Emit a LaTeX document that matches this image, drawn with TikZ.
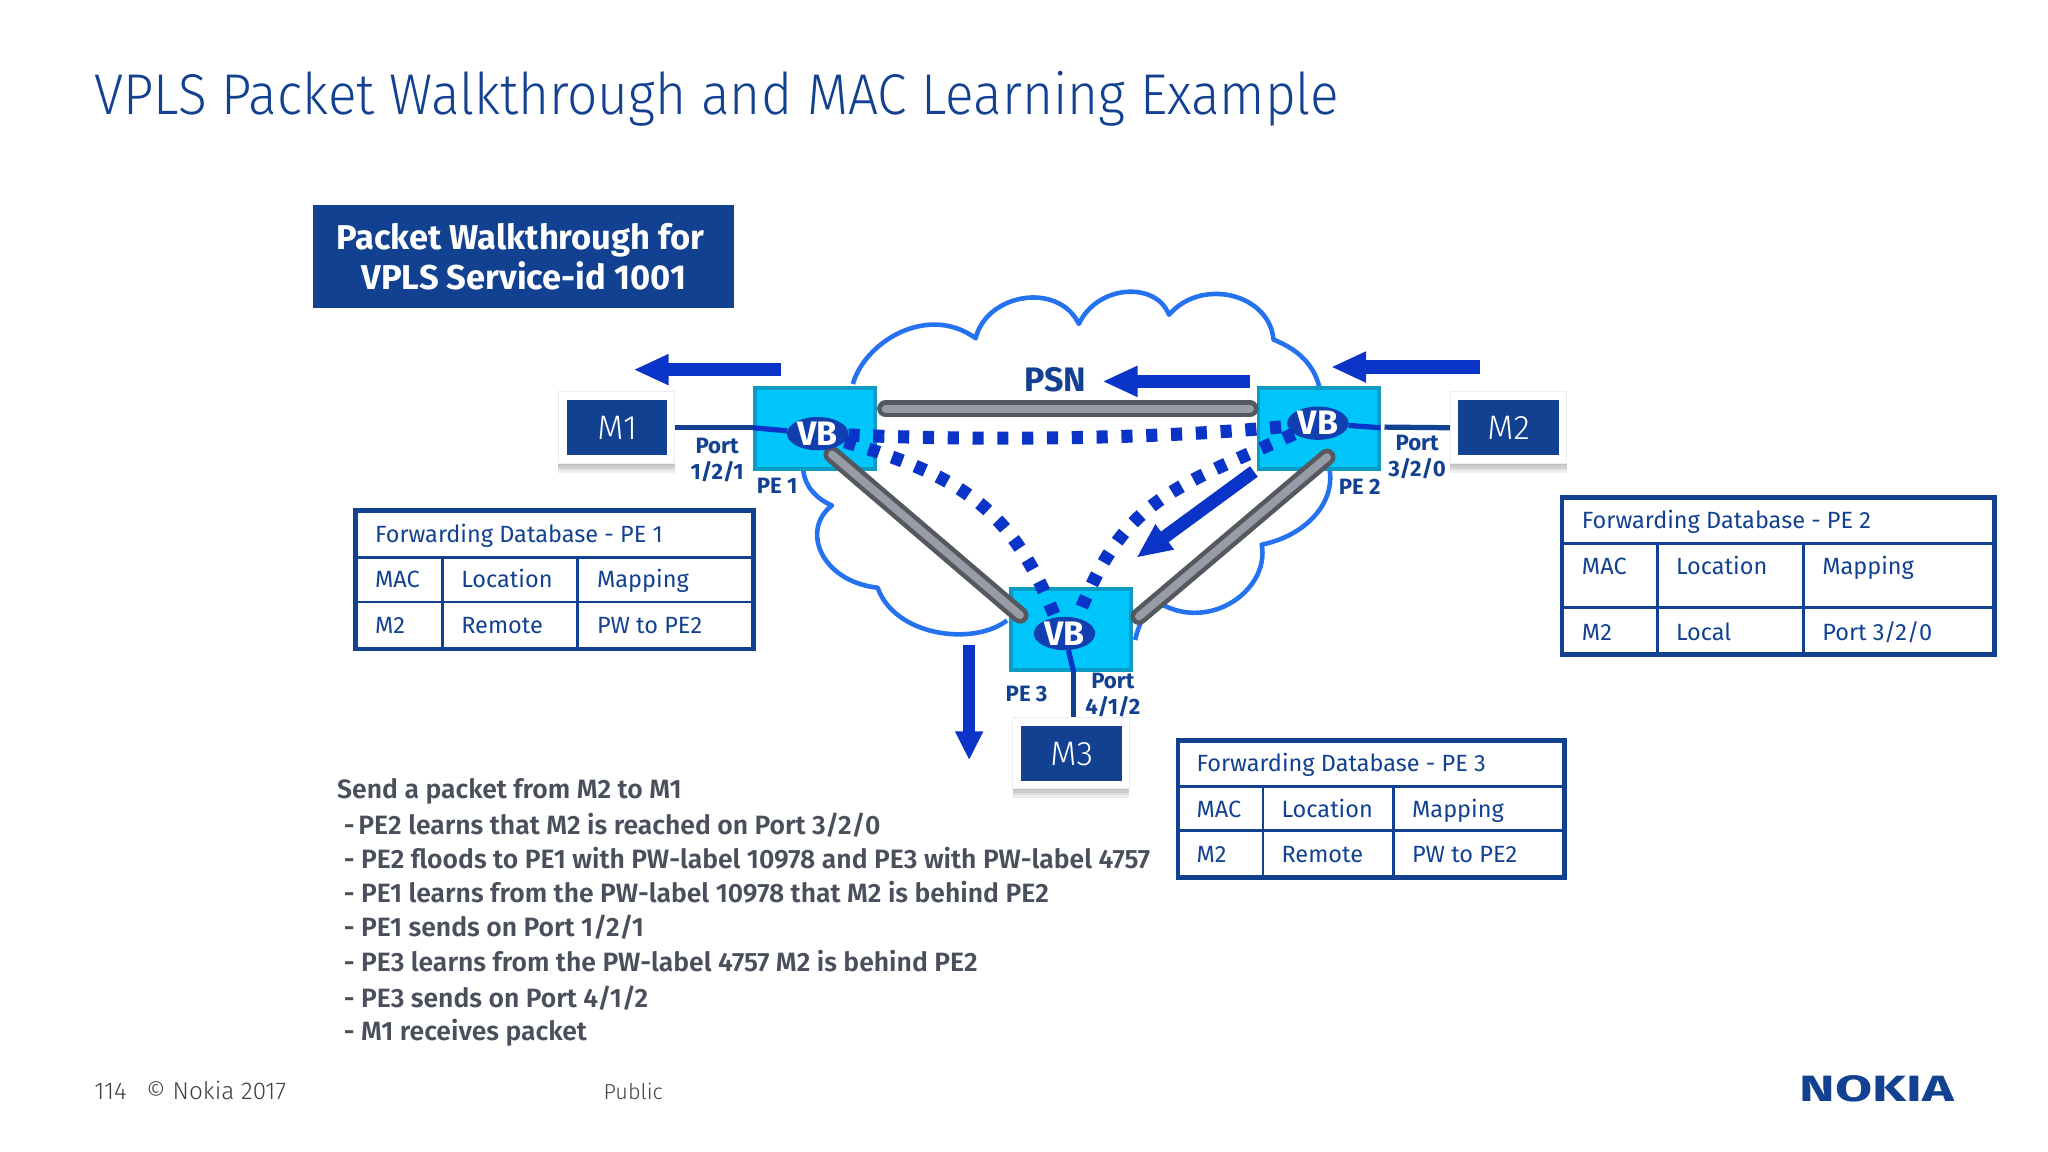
\documentclass[tikz,border=0pt]{standalone}
\usepackage{fontspec}
\setmainfont{Fira Sans}
\newfontfamily\lightfont{Fira Sans Light}
\newfontfamily\titlefont[FakeStretch=0.926]{Fira Sans Light}
\newfontfamily\semifont{Fira Sans SemiBold}
\usetikzlibrary{arrows.meta,shadows,shapes.geometric}
\definecolor{nokiablue}{HTML}{124191}
\definecolor{cloudblue}{HTML}{2472F0}
\definecolor{flowblue}{HTML}{0A33C8}
\definecolor{pefill}{HTML}{00C5FB}
\definecolor{peedge}{HTML}{0A9CC4}
\definecolor{vbfill}{HTML}{123FB0}
\definecolor{tubedark}{HTML}{55585F}
\definecolor{tubelight}{HTML}{989CA6}
\definecolor{stepgrey}{HTML}{4A4F5C}
\tikzset{
	pe/.style={draw=peedge,fill=pefill,line width=3pt,inner sep=0pt,minimum width=92pt,minimum height=62pt},
	vb/.style={ellipse,fill=vbfill,inner sep=0pt,minimum width=47pt,minimum height=23pt,text=white,font=\fontsize{26}{26}\selectfont\bfseries},
	cardshade/.style={general shadow={fill=black,opacity=.07,shadow yshift=#1}},
	card/.style={draw=black!7,fill=white,line width=.8pt,inner sep=0pt,minimum width=89pt,minimum height=55pt,cardshade=-1pt,cardshade=-3pt,cardshade=-5pt,cardshade=-7pt},
	host/.style={fill=nokiablue,inner sep=0pt,minimum width=77pt,minimum height=42pt,text=white,font=\fontsize{26}{26}\selectfont\lightfont},
	tubeouter/.style={line width=13pt,color=tubedark,line cap=round},
	tubeinner/.style={line width=6pt,color=tubelight,line cap=round},
	pw/.style={line width=10pt,color=flowblue,dash pattern=on 8.5pt off 10.5pt},
	flow/.style={line width=10pt,color=flowblue,-{Triangle[length=27pt,width=22pt]}},
	link/.style={line width=4pt,color=nokiablue},
	vblink/.style={line width=4pt,color=flowblue},
	lbl/.style={inner sep=0pt,align=center,text=nokiablue,font=\fontsize{17}{20}\selectfont\bfseries},
	fdb/.style={draw=nokiablue,line width=3.5pt},
	fdbrule/.style={draw=nokiablue,line width=2pt},
	cell/.style={anchor=base west,inner sep=0pt,text=nokiablue,font=\fontsize{18}{18}\selectfont},
	walkline/.style={anchor=base west,inner sep=0pt,text=stepgrey,font=\fontsize{20.3}{20}\selectfont\semifont}
}
\begin{document}
\begin{tikzpicture}[x=1pt,y=-1pt]
	\useasboundingbox (0,0) rectangle (1568,882);
	\node[anchor=base west,inner sep=0pt,text=nokiablue,font=\fontsize{44}{44}\selectfont\titlefont] (title) at (72,88) {VPLS Packet Walkthrough and MAC Learning Example};
	\node[fill=nokiablue,inner sep=0pt,minimum width=322pt,minimum height=79pt,align=center,text=white,font=\fontsize{26.4}{31}\selectfont\bfseries] (walk) at (401,196.5) {\hspace{-5pt}Packet Walkthrough for\\VPLS Service-id 1001};
	% cloud
	\draw[cloudblue,line width=3.5pt,line join=round] (653,294) .. controls (662,262) and (710,232) .. (747,259)
		.. controls (755,225) and (810,215) .. (826,248)
		.. controls (840,218) and (885,215) .. (895,241)
		.. controls (920,212) and (972,225) .. (975,260)
		.. controls (995,268) and (1006,280) .. (1010,296);
	\draw[cloudblue,line width=3.5pt,line join=round] (1018,360) .. controls (1022,385) and (1000,410) .. (966,417)
		.. controls (972,450) and (930,482) .. (892,464)
		.. controls (882,460) and (874,470) .. (869,490);
	\draw[cloudblue,line width=3.5pt,line join=round] (771,475) .. controls (745,495) and (685,487) .. (672,450)
		.. controls (628,445) and (613,405) .. (637,387)
		.. controls (625,382) and (616,372) .. (615,360);
	% routers
	\node[pe] (pe1) at (624,328) {};
	\node[pe] (pe2) at (1009.5,328) {};
	\node[pe] (pe3) at (820,482) {};
	\coordinate (t12a) at (678,313);
	\coordinate (t12b) at (957,313);
	\coordinate (t13a) at (637,348);
	\coordinate (t13b) at (781,471);
	\coordinate (t23a) at (1016,350);
	\coordinate (t23b) at (872,472);
	\draw[tubeouter] (t12a) -- (t12b);
	\draw[tubeouter] (t13a) -- (t13b);
	\draw[tubeouter] (t23a) -- (t23b);
	\draw[tubeinner] (t12a) -- (t12b);
	\draw[tubeinner] (t13a) -- (t13b);
	\draw[tubeinner] (t23a) -- (t23b);
	\node[vb] (vb1) at (626,332) {VB};
	\node[vb] (vb2) at (1009,324) {VB};
	\node[vb] (vb3) at (815,485) {VB};
	\draw[pw] (vb1) .. controls (740,337) and (880,337) .. (vb2);
	\draw[pw] (vb1) .. controls (737,365) and (775,390) .. (vb3.120);
	\draw[pw] (vb2) .. controls (895,375) and (860,383) .. (vb3.50);
	% hosts
	\node[card] (m1card) at (472,327.5) {};
	\node[card] (m2card) at (1155,327.5) {};
	\node[card] (m3card) at (820,576.5) {};
	\node[host] (m1) at (472.5,327.5) {M1};
	\node[host] (m2) at (1155,327.5) {M2};
	\node[host] (m3) at (820.5,577) {M3};
	\draw[link] (m1card.east) -- (pe1.west |- m1card.east);
	\draw[vblink] (pe1.west |- m1card.east) -- (vb1);
	\draw[link] (m2card.west) -- (1060,327);
	\draw[vblink] (pe2.east |- m2card.west) -- (vb2);
	\draw[link] ([xshift=2pt]m3card.north) -- ([xshift=2pt]pe3.south -| m3card.north);
	\draw[vblink] ([xshift=2pt]pe3.south -| m3card.north) -- (vb3);
	% packet flow
	\coordinate (f1a) at (598,283);
	\coordinate (f1b) at (485,283);
	\coordinate (f2a) at (957,292);
	\coordinate (f2b) at (844,292);
	\coordinate (f3a) at (1133,281);
	\coordinate (f3b) at (1019,281);
	\coordinate (f4a) at (742,494);
	\coordinate (f4b) at (742,582);
	\coordinate (f5a) at (960,361);
	\coordinate (f5b) at (870,427);
	\draw[flow] (f1a) -- (f1b);
	\draw[flow] (f2a) -- (f2b);
	\draw[flow] (f3a) -- (f3b);
	\draw[flow,line width=9pt,-{Triangle[length=22pt,width=20pt]}] (f4a) -- (f4b);
	\draw[flow] (f5a) -- (f5b);
	% labels
	\node[lbl,font=\fontsize{26}{26}\selectfont\bfseries] (psn) at (808,291) {PSN};
	\node[lbl] (port1) at (549,352) {Port\\1/2/1};
	\node[lbl] (port2) at (1085,350) {Port\\3/2/0};
	\node[lbl] (port3) at (852,532) {Port\\4/1/2};
	\node[lbl] (pe1lbl) at (595,372) {PE 1};
	\node[lbl] (pe2lbl) at (1041,373) {PE 2};
	\node[lbl] (pe3lbl) at (786,531) {PE 3};
	% forwarding database PE 1
	\draw[fdb] (272,391) rectangle (577,497);
	\draw[fdbrule] (272,427) -- (577,427) (272,461) -- (577,461) (339,427) -- (339,497) (442,427) -- (442,497);
	\node[cell] (a0) at (287,415) {Forwarding Database - PE 1};
	\node[cell] (a1) at (287,450) {MAC};
	\node[cell] (a2) at (353,450) {Location};
	\node[cell] (a3) at (457,450) {Mapping};
	\node[cell] (a4) at (287,485) {M2};
	\node[cell] (a5) at (353,485) {Remote};
	\node[cell] (a6) at (457,485) {PW to PE2};
	% forwarding database PE 2
	\draw[fdb] (1196,381) rectangle (1527,501);
	\draw[fdbrule] (1196,416) -- (1527,416) (1196,465) -- (1527,465) (1269,416) -- (1269,501) (1381,416) -- (1381,501);
	\node[cell] (b0) at (1211,405) {Forwarding Database - PE 2};
	\node[cell] (b1) at (1211,440) {MAC};
	\node[cell] (b2) at (1283,440) {Location};
	\node[cell] (b3) at (1395,440) {Mapping};
	\node[cell] (b4) at (1211,490) {M2};
	\node[cell] (b5) at (1283,490) {Local};
	\node[cell] (b6) at (1395,490) {Port 3/2/0};
	% forwarding database PE 3
	\draw[fdb] (902,567) rectangle (1198,672);
	\draw[fdbrule] (902,602) -- (1198,602) (902,636) -- (1198,636) (967,602) -- (967,672) (1067,602) -- (1067,672);
	\node[cell] (c0) at (916,591) {Forwarding Database - PE 3};
	\node[cell] (c1) at (916,626) {MAC};
	\node[cell] (c2) at (981,626) {Location};
	\node[cell] (c3) at (1081,626) {Mapping};
	\node[cell] (c4) at (916,660) {M2};
	\node[cell] (c5) at (981,660) {Remote};
	\node[cell] (c6) at (1081,660) {PW to PE2};
	% steps
	\node[walkline] (s0) at (258,611) {Send a packet from M2 to M1};
	\node[walkline] (s1) at (263,639) {-\hspace{3pt}PE2 learns that M2 is reached on Port 3/2/0};
	\node[walkline] (s2) at (263,665) {- PE2 floods to PE1 with PW-label 10978 and PE3 with PW-label 4757};
	\node[walkline] (s3) at (263,691) {- PE1 learns from the PW-label 10978 that M2 is behind PE2};
	\node[walkline] (s4) at (263,717) {- PE1 sends on Port 1/2/1};
	\node[walkline] (s5) at (263,744) {- PE3 learns from the PW-label 4757 M2 is behind PE2};
	\node[walkline] (s6) at (263,771) {- PE3 sends on Port 4/1/2};
	\node[walkline] (s7) at (263,797) {- M1 receives packet};
	% footer
	\node[anchor=base west,inner sep=0pt,text=black!75,font=\fontsize{18.6}{18}\selectfont\lightfont] (page) at (72,842) {114\hspace{15pt}© Nokia 2017};
	\node[anchor=base west,inner sep=0pt,text=black!75,font=\fontsize{16.6}{18}\selectfont\lightfont] (public) at (462,842) {Public};
	\node[anchor=base east,inner sep=0pt,text=nokiablue,font=\fontsize{28}{28}\selectfont\bfseries] (logo) at (1496,843) {\scalebox{1.47}[1]{NOKIA}};
\end{tikzpicture}
\end{document}
